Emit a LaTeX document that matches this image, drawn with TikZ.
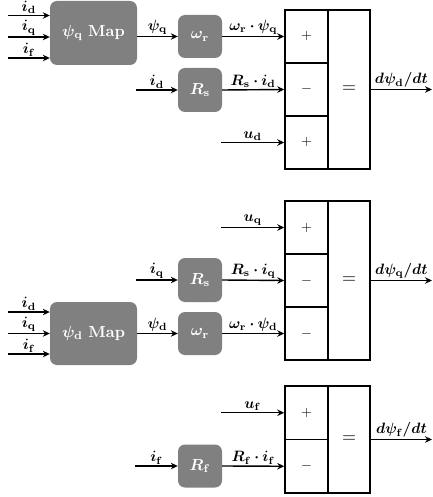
\documentclass[tikz,border=0pt]{standalone}
\usepackage{amsmath,bm}
\usetikzlibrary{arrows.meta}
\definecolor{boxgray}{RGB}{128,128,128}
\newcommand{\bsub}[2]{\bm{#1}_{\mathbf{#2}}}
\newcommand{\bxtxt}[1]{\scalebox{1.6}{#1}}
\newcommand{\sgn}[1]{\scalebox{1.4}{#1}}
\newcommand{\eqsgn}{\scalebox{1.8}{$=$}}
\begin{document}
\begin{tikzpicture}[x=1pt,y=-1pt,
  blk/.style={draw=none, fill=boxgray, rounded corners=7pt, text=white, inner sep=0pt},
  cell/.style={draw, line width=1.5pt, minimum width=43pt, inner sep=0pt},
  eqcell/.style={cell, minimum width=42pt},
  arr/.style={line width=1.4pt, -{Stealth[length=7pt,width=6.5pt]}},
  lab/.style={above, inner sep=0.4pt, yshift=0.3pt, scale=1.5}]
\useasboundingbox (0,0) rectangle (432,497);

% ---------------- top section ----------------
\node[blk, minimum width=87pt, minimum height=64pt] (mapq) at (93.5,33) {\bxtxt{$\bm{\psi}_{\mathbf{q}}$ \textbf{Map}}};
\node[blk, minimum width=44pt, minimum height=43pt] (wr1) at (200,36.5) {\bxtxt{$\bsub{\omega}{r}$}};
\node[blk, minimum width=44pt, minimum height=44pt] (rs1) at (200,90) {\bxtxt{$\bsub{R}{s}$}};
\node[cell, minimum height=53pt] (a1) at (306.5,36.5) {\sgn{$+$}};
\node[cell, minimum height=53pt] (a2) at (306.5,89.5) {\sgn{$-$}};
\node[cell, minimum height=53pt] (a3) at (306.5,142.5) {\sgn{$+$}};
\node[eqcell, minimum height=159pt] (ae) at (349,89.5) {\eqsgn};

\coordinate (iq1a) at (8,15.5);
\coordinate (iq1b) at (8,37);
\coordinate (iq1c) at (8,58);
\coordinate (id1) at (136,90);
\coordinate (ud) at (221,142.5);
\coordinate (od) at (432,89.5);

\draw[arr] (iq1a) -- node[lab]{$\bsub{i}{d}$} (iq1a -| mapq.west);
\draw[arr] (iq1b) -- node[lab]{$\bsub{i}{q}$} (iq1b -| mapq.west);
\draw[arr] (iq1c) -- node[lab]{$\bsub{i}{f}$} (iq1c -| mapq.west);
\draw[arr] (mapq.east |- wr1.west) -- node[lab]{$\bsub{\psi}{q}$} (wr1.west);
\draw[arr] (id1) -- node[lab]{$\bsub{i}{d}$} (rs1.west);
\draw[arr] (wr1.east) -- node[lab]{$\bsub{\omega}{r}\bm{\cdot}\bsub{\psi}{q}$} (a1.west);
\draw[arr] (rs1.east) -- node[lab]{$\bsub{R}{s}\bm{\cdot}\bsub{i}{d}$} (a2.west);
\draw[arr] (ud) -- node[lab]{$\bsub{u}{d}$} (a3.west);
\draw[arr] (ae.east) -- node[lab]{$\bm{d}\bsub{\psi}{d}\bm{/dt}$} (od);

% ---------------- middle section ----------------
\node[blk, minimum width=44pt, minimum height=44pt] (rs2) at (200,280) {\bxtxt{$\bsub{R}{s}$}};
\node[blk, minimum width=87pt, minimum height=63pt] (mapd) at (93.5,333.5) {\bxtxt{$\bm{\psi}_{\mathbf{d}}$ \textbf{Map}}};
\node[blk, minimum width=44pt, minimum height=43pt] (wr2) at (200,333.5) {\bxtxt{$\bsub{\omega}{r}$}};
\node[cell, minimum height=53pt] (b1) at (306.5,227.5) {\sgn{$+$}};
\node[cell, minimum height=53pt] (b2) at (306.5,280.5) {\sgn{$-$}};
\node[cell, minimum height=53pt] (b3) at (306.5,333.5) {\sgn{$-$}};
\node[eqcell, minimum height=159pt] (be) at (349,280.5) {\eqsgn};

\coordinate (uq) at (221,227.5);
\coordinate (iq2) at (136,280);
\coordinate (id2a) at (8,312);
\coordinate (id2b) at (8,333.5);
\coordinate (id2c) at (8,354);
\coordinate (oq) at (432,280.5);

\draw[arr] (uq) -- node[lab]{$\bsub{u}{q}$} (b1.west);
\draw[arr] (iq2) -- node[lab]{$\bsub{i}{q}$} (rs2.west);
\draw[arr] (rs2.east) -- node[lab]{$\bsub{R}{s}\bm{\cdot}\bsub{i}{q}$} (b2.west);
\draw[arr] (id2a) -- node[lab]{$\bsub{i}{d}$} (id2a -| mapd.west);
\draw[arr] (id2b) -- node[lab]{$\bsub{i}{q}$} (id2b -| mapd.west);
\draw[arr] (id2c) -- node[lab]{$\bsub{i}{f}$} (id2c -| mapd.west);
\draw[arr] (mapd.east) -- node[lab]{$\bsub{\psi}{d}$} (wr2.west);
\draw[arr] (wr2.east) -- node[lab]{$\bsub{\omega}{r}\bm{\cdot}\bsub{\psi}{d}$} (b3.west);
\draw[arr] (be.east) -- node[lab]{$\bm{d}\bsub{\psi}{q}\bm{/dt}$} (oq);

% ---------------- bottom section ----------------
\node[blk, minimum width=44pt, minimum height=43pt] (rf) at (200,466) {\bxtxt{$\bsub{R}{f}$}};
\node[cell, minimum height=53.5pt] (c1) at (306.5,412.75) {\sgn{$+$}};
\node[cell, minimum height=53.5pt] (c2) at (306.5,466.25) {\sgn{$-$}};
\node[eqcell, minimum height=107pt] (ce) at (349,439.5) {\eqsgn};

\coordinate (uf) at (221,412.75);
\coordinate (if) at (135,466);
\coordinate (of) at (432,439.5);

\draw[arr] (uf) -- node[lab]{$\bsub{u}{f}$} (c1.west);
\draw[arr] (if) -- node[lab]{$\bsub{i}{f}$} (rf.west);
\draw[arr] (rf.east) -- node[lab]{$\bsub{R}{f}\bm{\cdot}\bsub{i}{f}$} (c2.west);
\draw[arr] (ce.east) -- node[lab]{$\bm{d}\bsub{\psi}{f}\bm{/dt}$} (of);
\end{tikzpicture}
\end{document}
